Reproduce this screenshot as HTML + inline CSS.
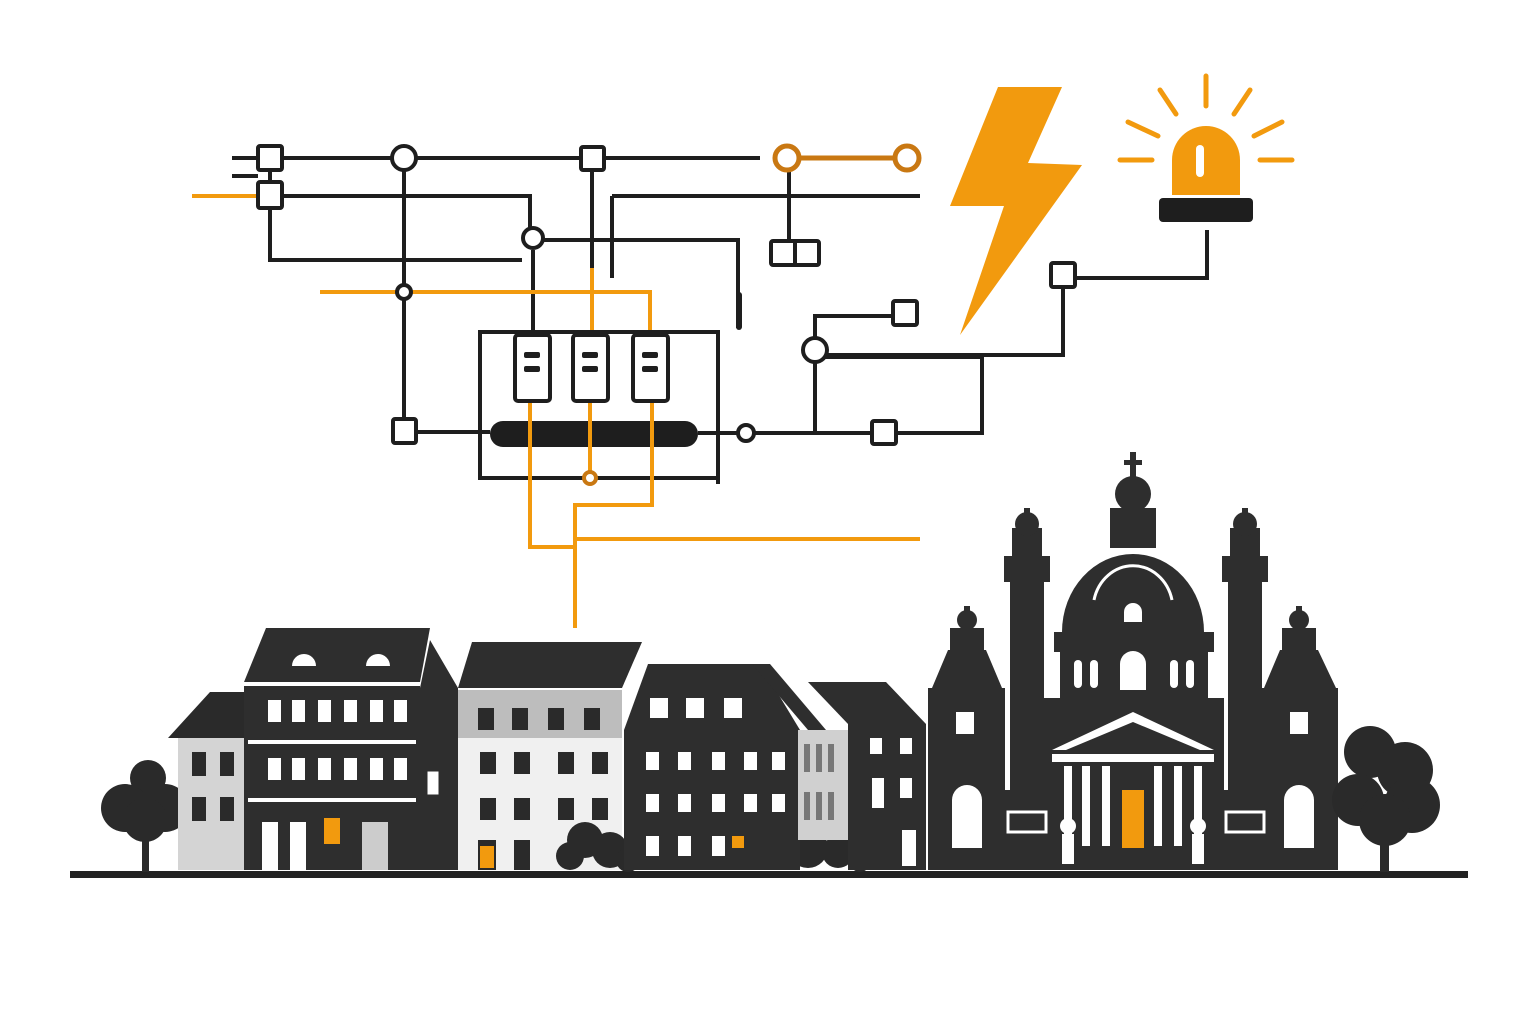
<!DOCTYPE html>
<html><head><meta charset="utf-8"><style>html,body{margin:0;padding:0;background:#fff}svg{display:block}</style></head>
<body>
<svg width="1536" height="1024" viewBox="0 0 1536 1024" xmlns="http://www.w3.org/2000/svg">
<rect width="1536" height="1024" fill="#fff"/>
<g fill="none" stroke="#1e1e1e" stroke-width="4">
<!-- circuit black lines -->
<path d="M232 158H760"/>
<path d="M232 176H258"/>
<path d="M270 196H530V228"/>
<path d="M612 196H920"/><path d="M612 196V278"/>
<path d="M270 170V260H522"/>
<path d="M404 170V418"/>
<path d="M543 240H738V328"/>
<path d="M533 250V334"/>
<path d="M592 170V268"/>
<path d="M789 170V240"/>
<rect x="480" y="332" width="238" height="146"/>
<path d="M718 400V484"/>
<path d="M416 432H490"/>
<path d="M698 433H872"/>
<path d="M896 433H982V357H815"/>
<path d="M827 355H1063V287"/>
<path d="M1076 278H1207V230"/>
<path d="M815 338V316H893"/>
<path d="M815 362V433"/>
</g>
<!-- orange circuit -->
<g fill="none" stroke="#f29a0e" stroke-width="4">
<path d="M192 196H258"/>
<path d="M320 292H650V330"/>
<path d="M592 268V330"/>
<path d="M530 388V547H575"/>
<path d="M575 628V505H652V400"/>
<path d="M575 539H920"/>
<path d="M590 385V472"/>
</g>
<path d="M787 158H907" stroke="#c97812" stroke-width="5"/>
<circle cx="787" cy="158" r="12" fill="#fff" stroke="#c97812" stroke-width="5"/>
<circle cx="907" cy="158" r="12" fill="#fff" stroke="#c97812" stroke-width="5"/>
<g fill="#fff" stroke="#1e1e1e" stroke-width="4">
<rect x="258" y="146" width="24" height="24" rx="2"/>
<rect x="258" y="182" width="24" height="26" rx="2"/>
<circle cx="404" cy="158" r="12"/>
<rect x="581" y="147" width="23" height="23" rx="2"/>
<circle cx="533" cy="238" r="10"/>
<circle cx="404" cy="292" r="7"/>
<rect x="771" y="241" width="48" height="24" rx="2"/>
<rect x="393" y="419" width="23" height="24" rx="2"/>
<circle cx="746" cy="433" r="8"/>
<rect x="872" y="421" width="24" height="23" rx="2"/>
<circle cx="815" cy="350" r="12"/>
<rect x="893" y="301" width="24" height="24" rx="2"/>
<rect x="1051" y="263" width="24" height="24" rx="2"/>
<rect x="515" y="335" width="35" height="66" rx="3"/>
<rect x="573" y="335" width="35" height="66" rx="3"/>
<rect x="633" y="335" width="35" height="66" rx="3"/>
<circle cx="590" cy="478" r="6" stroke="#c97812"/>
</g>
<path d="M795 241V265" stroke="#1e1e1e" stroke-width="4"/>
<rect x="736" y="292" width="6" height="38" rx="3" fill="#1e1e1e"/>
<g fill="#1e1e1e">
<rect x="524" y="352" width="16" height="6" rx="2"/><rect x="524" y="366" width="16" height="6" rx="2"/>
<rect x="582" y="352" width="16" height="6" rx="2"/><rect x="582" y="366" width="16" height="6" rx="2"/>
<rect x="642" y="352" width="16" height="6" rx="2"/><rect x="642" y="366" width="16" height="6" rx="2"/>
<rect x="490" y="421" width="208" height="26" rx="13"/>
</g>
<g stroke="#f29a0e" stroke-width="4"><path d="M530 421V447M590 421V447M652 421V447"/></g>
<!-- lightning -->
<polygon points="998,87 1062,87 1028,163 1082,165 960,335 1004,206 950,206" fill="#f29a0e"/>
<!-- alarm -->
<path d="M1172 195V160A34 34 0 0 1 1240 160V195Z" fill="#f29a0e"/>
<rect x="1196" y="145" width="8" height="32" rx="4" fill="#fff"/>
<rect x="1159" y="198" width="94" height="24" rx="4" fill="#1e1e1e"/>
<g stroke="#f29a0e" stroke-width="5" stroke-linecap="round">
<path d="M1206 76V106M1160 90L1176 114M1250 90L1234 114M1128 122L1158 136M1282 122L1254 136M1120 160H1152M1260 160H1292"/>
</g>
<!-- ground -->
<rect x="70" y="871" width="1398" height="7" fill="#222"/>
<!-- left tree -->
<g fill="#2a2a2a">
<circle cx="148" cy="778" r="18"/><circle cx="125" cy="808" r="24"/><circle cx="165" cy="808" r="24"/><circle cx="145" cy="820" r="22"/>
<rect x="142" y="800" width="7" height="72"/>
</g>
<!-- grey building -->
<polygon points="168,738 210,692 244,692 244,738" fill="#2a2a2a"/>
<rect x="178" y="738" width="66" height="132" fill="#d4d4d4"/>
<g fill="#2a2a2a"><rect x="192" y="752" width="14" height="24"/><rect x="220" y="752" width="14" height="24"/><rect x="192" y="797" width="14" height="24"/><rect x="220" y="797" width="14" height="24"/></g>
<!-- dark building 1 -->
<polygon points="244,682 266,628 430,628 420,682" fill="#2e2e2e"/>
<rect x="244" y="686" width="176" height="184" fill="#2e2e2e"/>
<path d="M292 666a12 12 0 0 1 24 0Z M366 666a12 12 0 0 1 24 0Z" fill="#fff"/>
<g fill="#fff">
<rect x="268" y="700" width="13" height="22"/><rect x="292" y="700" width="13" height="22"/><rect x="318" y="700" width="13" height="22"/><rect x="344" y="700" width="13" height="22"/><rect x="370" y="700" width="13" height="22"/><rect x="394" y="700" width="13" height="22"/>
<rect x="268" y="758" width="13" height="22"/><rect x="292" y="758" width="13" height="22"/><rect x="318" y="758" width="13" height="22"/><rect x="344" y="758" width="13" height="22"/><rect x="370" y="758" width="13" height="22"/><rect x="394" y="758" width="13" height="22"/>
<rect x="248" y="740" width="168" height="4"/><rect x="248" y="798" width="168" height="4"/>
<rect x="262" y="822" width="16" height="48"/><rect x="290" y="822" width="16" height="48"/><rect x="362" y="822" width="26" height="48" fill="#ccc"/>
</g>
<rect x="324" y="818" width="16" height="26" fill="#f29a0e"/>
<!-- narrow dark -->
<polygon points="420,688 430,640 458,688" fill="#2e2e2e"/>
<rect x="420" y="688" width="38" height="182" fill="#2e2e2e"/>
<rect x="426" y="770" width="14" height="26" fill="#fff" stroke="#2e2e2e" stroke-width="3"/>
<!-- light grey building -->
<polygon points="458,688 472,642 642,642 622,688" fill="#2e2e2e"/>
<rect x="458" y="690" width="164" height="180" fill="#f0f0f0"/>
<rect x="458" y="690" width="164" height="48" fill="#bdbdbd"/>
<g fill="#2a2a2a">
<rect x="478" y="708" width="16" height="22"/><rect x="512" y="708" width="16" height="22"/><rect x="548" y="708" width="16" height="22"/><rect x="584" y="708" width="16" height="22"/>
<rect x="480" y="752" width="16" height="22"/><rect x="514" y="752" width="16" height="22"/><rect x="558" y="752" width="16" height="22"/><rect x="592" y="752" width="16" height="22"/>
<rect x="480" y="798" width="16" height="22"/><rect x="514" y="798" width="16" height="22"/><rect x="558" y="798" width="16" height="22"/><rect x="592" y="798" width="16" height="22"/>
<rect x="478" y="840" width="18" height="30"/><rect x="514" y="840" width="16" height="30"/>
</g>
<rect x="480" y="846" width="14" height="22" fill="#f29a0e"/>
<!-- bushes -->
<g fill="#2a2a2a"><circle cx="585" cy="840" r="18"/><circle cx="570" cy="856" r="14"/><circle cx="610" cy="850" r="18"/><circle cx="628" cy="860" r="12"/>
<circle cx="780" cy="845" r="18"/><circle cx="808" cy="848" r="20"/><circle cx="838" cy="852" r="16"/><circle cx="860" cy="862" r="10"/></g>
<!-- dark building 2 -->
<polygon points="624,730 648,664 760,664 800,730" fill="#2e2e2e"/>
<polygon points="752,664 770,664 826,730 808,730" fill="#2e2e2e"/>
<rect x="624" y="730" width="176" height="140" fill="#2e2e2e"/>
<g fill="#fff">
<rect x="650" y="698" width="18" height="20"/><rect x="686" y="698" width="18" height="20"/><rect x="724" y="698" width="18" height="20"/>
<rect x="646" y="752" width="13" height="18"/><rect x="678" y="752" width="13" height="18"/><rect x="712" y="752" width="13" height="18"/><rect x="744" y="752" width="13" height="18"/><rect x="772" y="752" width="13" height="18"/>
<rect x="646" y="794" width="13" height="18"/><rect x="678" y="794" width="13" height="18"/><rect x="712" y="794" width="13" height="18"/><rect x="744" y="794" width="13" height="18"/><rect x="772" y="794" width="13" height="18"/>
<rect x="646" y="836" width="13" height="20"/><rect x="678" y="836" width="13" height="20"/><rect x="712" y="836" width="13" height="20"/>
</g>
<rect x="732" y="836" width="12" height="12" fill="#f29a0e"/>
<!-- grey narrow -->
<rect x="798" y="730" width="50" height="110" fill="#d0d0d0"/>
<g fill="#777"><rect x="804" y="744" width="6" height="28"/><rect x="816" y="744" width="6" height="28"/><rect x="828" y="744" width="6" height="28"/><rect x="804" y="792" width="6" height="28"/><rect x="816" y="792" width="6" height="28"/><rect x="828" y="792" width="6" height="28"/></g>
<!-- dark 3 -->
<polygon points="808,682 886,682 926,724 848,724" fill="#2e2e2e"/>
<rect x="848" y="724" width="78" height="146" fill="#2e2e2e"/>
<g fill="#fff"><rect x="870" y="738" width="12" height="16"/><rect x="900" y="738" width="12" height="16"/><rect x="872" y="778" width="12" height="30"/><rect x="900" y="778" width="12" height="20"/><rect x="902" y="830" width="14" height="36"/></g>
<!-- church -->
<g fill="#2e2e2e">
<!-- left wing -->
<rect x="928" y="688" width="77" height="182"/>
<polygon points="932,688 948,650 986,650 1002,688"/>
<rect x="950" y="628" width="34" height="26"/><circle cx="967" cy="620" r="10"/><rect x="964" y="606" width="6" height="14"/>
<!-- left column -->
<rect x="1010" y="580" width="34" height="260"/>
<rect x="1004" y="556" width="46" height="26"/><rect x="1012" y="528" width="30" height="30"/><circle cx="1027" cy="524" r="12"/><rect x="1024" y="508" width="6" height="14"/>
<rect x="998" y="790" width="58" height="80"/>
<!-- dome -->
<path d="M1062 632A71 78 0 0 1 1204 632Z"/>
<rect x="1110" y="508" width="46" height="40"/><circle cx="1133" cy="494" r="18"/><rect x="1130" y="452" width="6" height="30"/><rect x="1124" y="460" width="18" height="5"/>
<rect x="1054" y="632" width="160" height="20"/>
<rect x="1060" y="652" width="148" height="60"/>
<rect x="1044" y="698" width="180" height="172"/>
<!-- right column -->
<rect x="1228" y="580" width="34" height="260"/>
<rect x="1222" y="556" width="46" height="26"/><rect x="1230" y="528" width="30" height="30"/><circle cx="1245" cy="524" r="12"/><rect x="1242" y="508" width="6" height="14"/>
<rect x="1216" y="790" width="58" height="80"/>
<!-- right wing -->
<rect x="1262" y="688" width="76" height="182"/>
<polygon points="1264,688 1280,650 1318,650 1336,688"/>
<rect x="1282" y="628" width="34" height="26"/><circle cx="1299" cy="620" r="10"/><rect x="1296" y="606" width="6" height="14"/>
</g>
<g fill="#fff">
<path d="M1124 622v-10a9 9 0 0 1 18 0v10Z"/>
<path d="M1094 600a40 44 0 0 1 78 0" fill="none" stroke="#fff" stroke-width="3"/>
<path d="M1120 690v-26a13 13 0 0 1 26 0v26Z"/>
<rect x="1074" y="660" width="8" height="28" rx="4"/><rect x="1090" y="660" width="8" height="28" rx="4"/><rect x="1170" y="660" width="8" height="28" rx="4"/><rect x="1186" y="660" width="8" height="28" rx="4"/>
<polygon points="1052,750 1133,712 1214,750 1200,750 1133,722 1066,750"/>
<rect x="1052" y="754" width="162" height="8"/>
<rect x="1064" y="766" width="8" height="80"/><rect x="1082" y="766" width="8" height="80"/><rect x="1102" y="766" width="8" height="80"/><rect x="1154" y="766" width="8" height="80"/><rect x="1174" y="766" width="8" height="80"/><rect x="1194" y="766" width="8" height="80"/>
<path d="M952 848v-48a15 15 0 0 1 30 0v48Z"/>
<path d="M1284 848v-48a15 15 0 0 1 30 0v48Z"/>
<rect x="956" y="712" width="18" height="22"/><rect x="1290" y="712" width="18" height="22"/>
<rect x="1008" y="812" width="38" height="20" fill="none" stroke="#fff" stroke-width="3"/>
<rect x="1226" y="812" width="38" height="20" fill="none" stroke="#fff" stroke-width="3"/>
<circle cx="1068" cy="826" r="8"/><rect x="1062" y="834" width="12" height="30"/>
<circle cx="1198" cy="826" r="8"/><rect x="1192" y="834" width="12" height="30"/>
</g>
<rect x="1122" y="790" width="22" height="58" fill="#f29a0e"/>
<!-- right tree -->
<g fill="#2a2a2a">
<circle cx="1370" cy="752" r="26"/><circle cx="1405" cy="770" r="28"/><circle cx="1358" cy="800" r="26"/><circle cx="1412" cy="805" r="28"/><circle cx="1385" cy="820" r="26"/>
<rect x="1380" y="810" width="9" height="62"/>
</g>
</svg>
</body></html>
